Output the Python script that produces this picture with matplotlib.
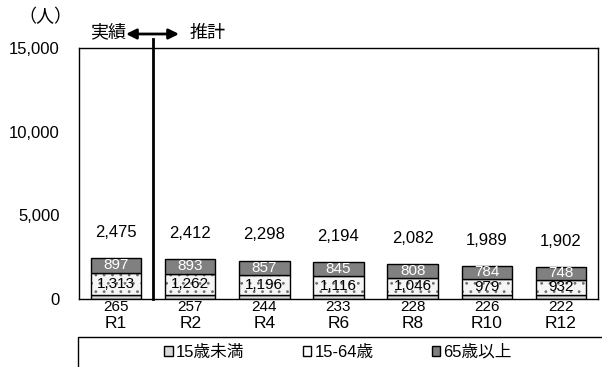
import matplotlib
matplotlib.use("Agg")
import matplotlib.pyplot as plt
from matplotlib.patches import Rectangle, FancyArrowPatch
import numpy as np

plt.rcParams['font.family'] = ['Liberation Sans', 'Noto Sans CJK JP', 'DejaVu Sans']
plt.rcParams['hatch.linewidth'] = 0.8

categories = ["R1", "R2", "R4", "R6", "R8", "R10", "R12"]
under15 = [265, 257, 244, 233, 228, 226, 222]
age15_64 = [1313, 1262, 1196, 1116, 1046, 979, 932]
over65 = [897, 893, 857, 845, 808, 784, 748]
totals = [2475, 2412, 2298, 2194, 2082, 1989, 1902]
yticks = [0, 5000, 10000, 15000]
series_names = ["15歳未満", "15-64歳", "65歳以上"]

fig = plt.figure(figsize=(6.02, 3.67), dpi=100)
ax = fig.add_axes([79/602, 1-299/367, 519/602, 251/367])

x = np.arange(len(categories))
w = 0.68
u = np.array(under15); m = np.array(age15_64); o = np.array(over65)
b1 = ax.bar(x, u, w, color='#d9d9d9', edgecolor='black', linewidth=1.0, label=series_names[0])
# hatch layer in gray, then black outline
ax.bar(x, m, w, bottom=u, color='#f5f5f5', edgecolor='#707070', linewidth=0, hatch='..')
b2 = ax.bar(x, m, w, bottom=u, color='none', edgecolor='black', linewidth=1.0, label=series_names[1])
b3 = ax.bar(x, o, w, bottom=u+m, color='#808080', edgecolor='black', linewidth=1.0,
            label=series_names[2])

ax.set_xlim(-0.5, len(categories)-0.5)
ax.set_ylim(0, 15000)
ax.set_yticks(yticks)
ax.set_yticklabels([f"{v:,}" for v in yticks], fontsize=12)
ax.tick_params(axis='both', length=0)
ax.tick_params(axis='y', pad=14)
ax.set_xticks([])
for s in ax.spines.values():
    s.set_linewidth(1.0)

for i in range(len(categories)):
    ax.annotate(f"{totals[i]:,}", (x[i], totals[i]), xytext=(0, 13), textcoords='offset points',
                ha='center', va='bottom', fontsize=12)
    ax.text(x[i], u[i]+m[i]+o[i]/2, f"{over65[i]:,}", ha='center', va='center',
            color='white', fontsize=11)
    ax.text(x[i], u[i]+m[i]/2, f"{age15_64[i]:,}", ha='center', va='center',
            color='black', fontsize=11)
    ax.annotate(f"{under15[i]:,}", (x[i], 0), xytext=(0, -1), textcoords='offset points',
                ha='center', va='top', fontsize=11)
    ax.annotate(categories[i], (x[i], 0), xytext=(0, -12), textcoords='offset points',
                ha='center', va='top', fontsize=12.5)

# divider line between actual and estimate
ax.plot([0.5, 0.5], [0, 15000*(1+9/251)], color='black', lw=2, clip_on=False)
arrow = FancyArrowPatch((126/602, 1-34/367), (179/602, 1-34/367), transform=fig.transFigure,
                        arrowstyle='<|-|>', mutation_scale=15, color='black', lw=2,
                        shrinkA=0, shrinkB=0)
fig.patches.append(arrow)
fig.text(126/602, 1-33/367, "実績", ha='right', va='center', fontsize=13)
fig.text(190/602, 1-33/367, "推計", ha='left', va='center', fontsize=13)
fig.text(45/602, 1-17/367, "（人）", ha='center', va='center', fontsize=13)

# legend box
fig.patches.append(Rectangle((78/602, -0.05), 1, (367-337)/367 + 0.05, transform=fig.transFigure,
                             fill=False, edgecolor='black', lw=1.0))
leg = fig.legend(handles=[b1, b2, b3], loc='center', bbox_to_anchor=(338/602, 1-352/367),
                 ncol=3, frameon=False, fontsize=12, handlelength=0.5, handleheight=0.5,
                 handletextpad=0.2, columnspacing=3.5)

fig.savefig("out.png", dpi=100)
